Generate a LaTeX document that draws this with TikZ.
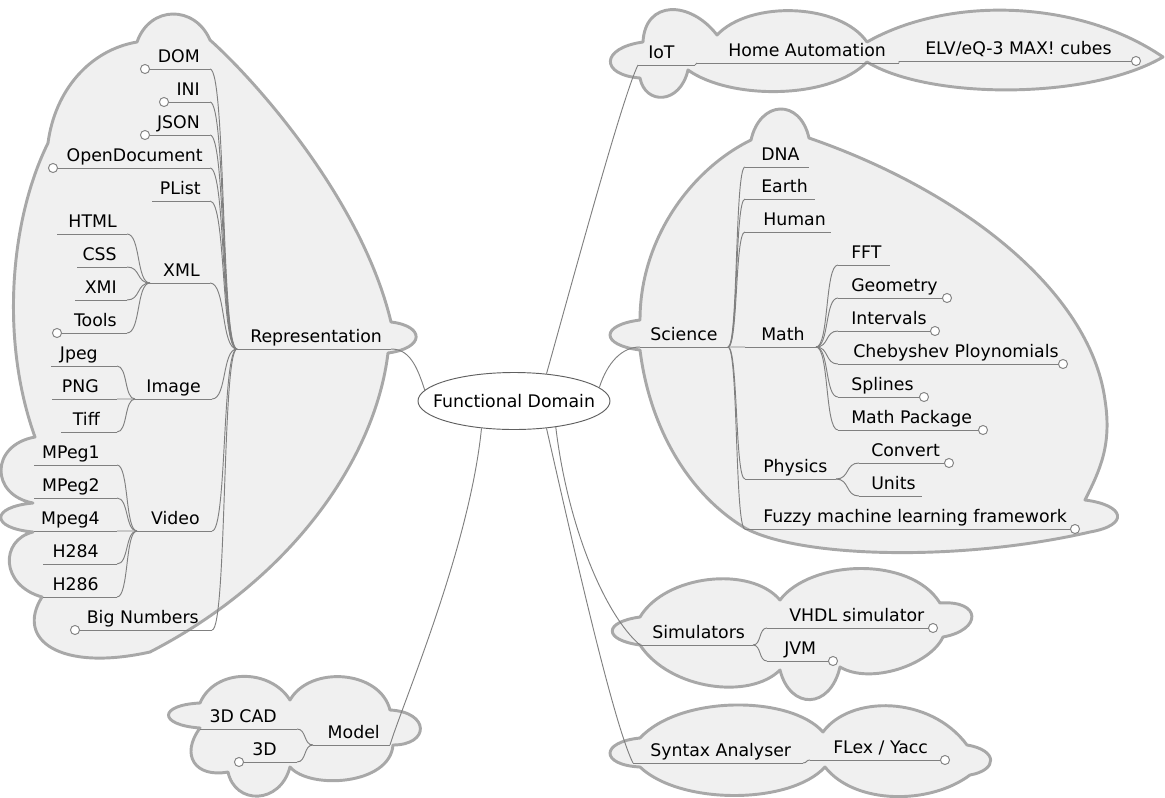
\documentclass[tikz,border=0pt]{standalone}
\usepackage{fontspec}
\setmainfont{DejaVu Sans}
\usetikzlibrary{calc,shapes.geometric}
\definecolor{cloudfill}{HTML}{F0F0F0}
\definecolor{cloudline}{HTML}{A8A8A8}
\definecolor{edgecol}{HTML}{808080}
\definecolor{ellcol}{HTML}{606060}
\tikzset{
  txt/.style={inner sep=0pt, font=\fontsize{13pt}{15pt}\selectfont, text=black},
  uline/.style={draw=edgecol, line width=0.7pt},
  mm/.style={draw=edgecol, line width=0.7pt,
    to path={.. controls ($(\tikztostart)!0.6!(\tikztostart-|\tikztotarget)$) and ($(\tikztotarget)!0.6!(\tikztotarget-|\tikztostart)$) .. (\tikztotarget)}},
  mmcloud/.style={fill=cloudfill, draw=cloudline, line width=2.2pt, line join=round},
  foldc/.style={draw=edgecol, fill=white, line width=0.7pt},
  rootedge/.style={draw=edgecol, line width=0.7pt},
  rootshape/.style={ellipse, draw=ellcol, fill=white, line width=0.7pt, inner sep=0pt, minimum width=144pt, minimum height=42.75pt},
}
\newcommand\lnode[6]{%
  \coordinate (#1L) at (#2,#4); \coordinate (#1R) at (#3,#4);
  \draw[uline] (#1L) -- (#1R);
  \node[txt, anchor=base east] (#1) at (#5,#4-7) {#6};}
\newcommand\rnode[6]{%
  \coordinate (#1L) at (#2,#4); \coordinate (#1R) at (#3,#4);
  \draw[uline] (#1L) -- (#1R);
  \node[txt, anchor=base west] (#1) at (#5,#4-7) {#6};}
\newcommand\fold[1]{\path[foldc] (#1) circle[radius=3.4pt];}
\begin{document}
\begin{tikzpicture}[x=0.75pt, y=-0.75pt]
\useasboundingbox (0,0) rectangle (1165,797);
% ---------- clouds ----------
\path[mmcloud] (137,42) .. controls (150,5) and (195,5) .. (210,40)
 .. controls (255,80) and (362,200) .. (391,322)
 .. controls (425,326) and (425,348) .. (388,353)
 .. controls (375,460) and (290,580) .. (150,652)
 .. controls (60,672) and (15,640) .. (42,597)
 .. controls (0,585) and (0,540) .. (33,532)
 .. controls (-10,528) and (-10,507) .. (33,503)
 .. controls (-10,495) and (-10,445) .. (35,437)
 .. controls (0,340) and (10,220) .. (48,143)
 .. controls (55,90) and (90,50) .. (137,42) -- cycle;
\path[mmcloud] (751,140) .. controls (760,100) and (800,98) .. (809,138)
 .. controls (960,190) and (1090,290) .. (1105,400)
 .. controls (1112,445) and (1100,470) .. (1085,500)
 .. controls (1125,505) and (1130,525) .. (1090,532)
 .. controls (960,562) and (800,558) .. (745,528)
 .. controls (690,495) and (650,430) .. (640,350)
 .. controls (600,345) and (600,325) .. (640,320)
 .. controls (640,240) and (690,170) .. (751,140) -- cycle;
\path[mmcloud] (643,42) .. controls (645,0) and (690,0) .. (717,35)
 .. controls (750,0) and (840,3) .. (867,42)
 .. controls (950,-5) and (1080,0) .. (1163,57)
 .. controls (1090,100) and (930,100) .. (867,62)
 .. controls (830,100) and (730,100) .. (688,70)
 .. controls (680,105) and (645,105) .. (640,78)
 .. controls (600,75) and (600,48) .. (643,42) -- cycle;
\path[mmcloud] (640,617) .. controls (665,575) and (750,565) .. (780,600)
 .. controls (810,560) and (910,555) .. (940,603)
 .. controls (982,600) and (982,630) .. (943,637)
 .. controls (930,665) and (870,685) .. (840,667)
 .. controls (830,710) and (790,710) .. (780,670)
 .. controls (750,700) and (670,690) .. (640,645)
 .. controls (603,640) and (603,622) .. (640,617) -- cycle;
\path[mmcloud] (640,738) .. controls (680,695) and (790,695) .. (823,732)
 .. controls (850,695) and (930,695) .. (967,745)
 .. controls (998,750) and (998,770) .. (970,775)
 .. controls (930,805) and (855,805) .. (825,767)
 .. controls (790,805) and (680,805) .. (640,767)
 .. controls (600,765) and (600,742) .. (640,738) -- cycle;
\path[mmcloud] (200,703) .. controls (215,668) and (270,668) .. (290,700)
 .. controls (310,665) and (380,670) .. (390,710)
 .. controls (430,712) and (430,745) .. (393,745)
 .. controls (390,785) and (310,790) .. (290,767)
 .. controls (280,805) and (235,805) .. (228,772)
 .. controls (195,778) and (180,755) .. (200,728)
 .. controls (158,725) and (158,705) .. (200,703) -- cycle;
% ---------- root ----------
\node[rootshape] (fd) at (514,401) {};
\node[txt] (fdtext) at (fd.center) {Functional Domain};
% ---------- left: Representation ----------
\lnode{dom}{145}{210}{69}{200}{DOM}
\lnode{ini}{164}{210}{102}{200}{INI}
\lnode{json}{145}{210}{135}{200}{JSON}
\lnode{od}{53}{210}{168}{203}{OpenDocument}
\lnode{plist}{152}{210}{201}{201}{PList}
\lnode{html}{57}{127}{234}{117}{HTML}
\lnode{css}{77}{127}{267}{117}{CSS}
\lnode{xml}{150}{210}{283}{200}{XML}
\lnode{xmi}{75}{127}{300}{117}{XMI}
\lnode{tools}{57}{127}{333}{117}{Tools}
\rnode{rep}{237}{391}{349}{250}{Representation}
\lnode{jpeg}{51}{117}{366}{98}{Jpeg}
\lnode{png}{52}{117}{399}{99}{PNG}
\lnode{img}{135}{212}{399}{201}{Image}
\lnode{tiff}{61}{117}{432}{100}{Tiff}
\lnode{mpa}{34}{117}{465}{100}{MPeg1}
\lnode{mpb}{34}{117}{498}{100}{MPeg2}
\lnode{mpc}{34}{117}{531}{100}{Mpeg4}
\lnode{vid}{137}{212}{531}{200}{Video}
\lnode{hpa}{43}{117}{564}{99}{H284}
\lnode{hpb}{43}{117}{597}{99}{H286}
\lnode{big}{75}{212}{630}{199}{Big Numbers}
% ---------- left: Model ----------
\lnode{cad}{200}{297}{729}{277}{3D CAD}
\lnode{td}{239}{297}{762}{277}{3D}
\lnode{model}{313}{390}{745}{380}{Model}
% ---------- right: Science ----------
\rnode{sci}{640}{728}{347}{650}{Science}
\rnode{dna}{745}{809}{167}{761}{DNA}
\rnode{earth}{745}{815}{199}{761}{Earth}
\rnode{human}{745}{831}{232}{763}{Human}
\rnode{math}{745}{816}{347}{761}{Math}
\rnode{fft}{838}{890}{265}{851}{FFT}
\rnode{geo}{838}{947}{298}{851}{Geometry}
\rnode{intv}{838}{935}{331}{851}{Intervals}
\rnode{cheb}{838}{1063}{364}{853}{Chebyshev Ploynomials}
\rnode{spl}{838}{924}{397}{851}{Splines}
\rnode{mpk}{838}{983}{430}{851}{Math Package}
\rnode{phys}{745}{836}{479}{763}{Physics}
\rnode{conv}{859}{949}{463}{871}{Convert}
\rnode{units}{859}{922}{496}{871}{Units}
\rnode{fuzzy}{745}{1075}{529}{763}{Fuzzy machine learning framework}
% ---------- right: IoT ----------
\rnode{iot}{638}{695}{65}{648}{IoT}
\rnode{ha}{697}{899}{63}{728}{Home Automation}
\rnode{elv}{899}{1136}{61}{925}{ELV/eQ-3 MAX! cubes}
% ---------- right: Simulators, Syntax ----------
\rnode{sim}{640}{753}{645}{652}{Simulators}
\rnode{vhdl}{767}{933}{628}{789}{VHDL simulator}
\rnode{jvm}{767}{833}{661}{784}{JVM}
\rnode{syn}{633}{803}{763}{650}{Syntax Analyser}
\rnode{flex}{810}{945}{760}{833}{FLex / Yacc}
% ---------- connectors ----------
\foreach \c in {dom,ini,json,od,plist,xml,img,vid,big} \draw[mm] (\c R) to (repL);
\foreach \c in {html,css,xmi,tools} \draw[mm] (\c R) to (xmlL);
\foreach \c in {jpeg,png,tiff} \draw[mm] (\c R) to (imgL);
\foreach \c in {mpa,mpb,mpc,hpa,hpb} \draw[mm] (\c R) to (vidL);
\foreach \c in {cad,td} \draw[mm] (\c R) to (modelL);
\foreach \c in {dna,earth,human,math,phys,fuzzy} \draw[mm] (sciR) to (\c L);
\foreach \c in {fft,geo,intv,cheb,spl,mpk} \draw[mm] (mathR) to (\c L);
\foreach \c in {conv,units} \draw[mm] (physR) to (\c L);
\draw[mm] (iotR) to (haL);
\draw[mm] (haR) to (elvL);
\foreach \c in {vhdl,jvm} \draw[mm] (simR) to (\c L);
\draw[mm] (synR) to (flexL);
% root connectors
\draw[rootedge] (fd.173) .. controls ($(fd.173)+(-8,-25)$) and ($(repR)+(18,0)$) .. (repR);
\draw[rootedge] (fd.9) .. controls ($(fd.9)+(8,-25)$) and ($(sciL)+(-18,0)$) .. (sciL);
\draw[rootedge] (fd.40) .. controls ($(fd.40)+(28,-100)$) and ($(iotL)+(-15,30)$) .. (iotL);
\draw[rootedge] (fd.-32) .. controls ($(fd.-32)+(12,100)$) and ($(simL)+(-35,-30)$) .. (simL);
\draw[rootedge] (fd.-40) .. controls ($(fd.-40)+(25,110)$) and ($(synL)+(-20,-40)$) .. (synL);
\draw[rootedge] (fd.-140) .. controls ($(fd.-140)+(-12,120)$) and ($(modelR)+(12,-40)$) .. (modelR);
% fold markers
\foreach \p in {domL,iniL,jsonL,odL,toolsL,bigL,tdL,geoR,intvR,chebR,splR,mpkR,convR,fuzzyR,elvR,vhdlR,jvmR,flexR} \fold{\p};
\end{tikzpicture}
\end{document}
